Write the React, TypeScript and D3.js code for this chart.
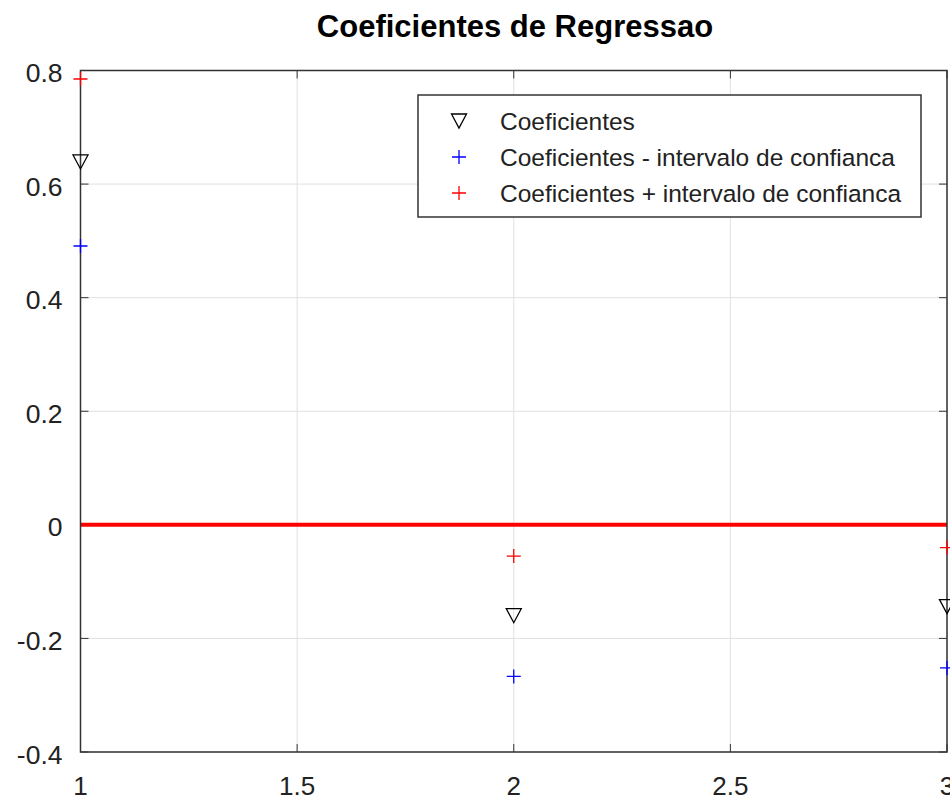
import React from "react";
import * as d3 from "d3";

const xs = [1, 2, 3];
const coef = [0.639, -0.160, -0.144];
const lower = [0.491, -0.267, -0.252];
const upper = [0.785, -0.055, -0.040];
const xTicks = [1, 1.5, 2, 2.5, 3];
const yTicks = [-0.4, -0.2, 0, 0.2, 0.4, 0.6, 0.8];
const legendLabels = [
  "Coeficientes",
  "Coeficientes - intervalo de confianca",
  "Coeficientes + intervalo de confianca",
];

const W = 950, H = 801;
const L = 80.5, R = 947, T = 70.5, B = 752;
const font = "'Liberation Sans', Arial, sans-serif";

function Plus({ x, y, color }: { x: number; y: number; color: string }) {
  const s = 7;
  return (
    <path d={`M${x - s},${y}H${x + s}M${x},${y - s}V${y + s}`} stroke={color} strokeWidth={1.3} fill="none" />
  );
}
function Tri({ x, y }: { x: number; y: number }) {
  const w = 7.5, h = 7;
  return (
    <path d={`M${x - w},${y - h}L${x + w},${y - h}L${x},${y + h}Z`} stroke="#000" strokeWidth={1.3} fill="none" />
  );
}

export default function App() {
  const xScale = d3.scaleLinear().domain([1, 3]).range([L, R]);
  const yScale = d3.scaleLinear().domain([-0.4, 0.8]).range([B, T]);
  const fmt = (v: number) => (Math.abs(v) < 1e-9 ? "0" : String(+v.toFixed(1)));
  const legX = 418, legY = 95, legW = 503, legH = 122;
  const rowY = [121, 157, 193];
  return (
    <svg width={W} height={H} style={{ position: "absolute", left: 0, top: 0, background: "#fff" }}>
      <rect x={0} y={0} width={W} height={H} fill="#fff" />
      <text x={515} y={37} textAnchor="middle" fontFamily={font} fontWeight="bold" fontSize={31}>
        Coeficientes de Regressao
      </text>
      {/* grid */}
      {xTicks.map((t) => (
        <line key={"gx" + t} x1={xScale(t)} x2={xScale(t)} y1={T} y2={B} stroke="#e0e0e0" strokeWidth={1} />
      ))}
      {yTicks.map((t) => (
        <line key={"gy" + t} x1={L} x2={R} y1={yScale(t)} y2={yScale(t)} stroke="#e0e0e0" strokeWidth={1} />
      ))}
      {/* ticks */}
      {xTicks.map((t) => (
        <g key={"tx" + t}>
          <line x1={xScale(t)} x2={xScale(t)} y1={B} y2={B - 8} stroke="#333" />
          <line x1={xScale(t)} x2={xScale(t)} y1={T} y2={T + 8} stroke="#333" />
          <text x={xScale(t)} y={795} textAnchor="middle" fontFamily={font} fontSize={26} fill="#222">
            {fmt(t)}
          </text>
        </g>
      ))}
      {yTicks.map((t) => (
        <g key={"ty" + t}>
          <line x1={L} x2={L + 8} y1={yScale(t)} y2={yScale(t)} stroke="#333" />
          <line x1={R} x2={R - 8} y1={yScale(t)} y2={yScale(t)} stroke="#333" />
          <text x={62.5} y={yScale(t) + 11.5} textAnchor="end" fontFamily={font} fontSize={26.5} fill="#222">
            {fmt(t)}
          </text>
        </g>
      ))}
      {/* zero line */}
      <line x1={L} x2={R} y1={yScale(0)} y2={yScale(0)} stroke="#ff0000" strokeWidth={4} />
      {/* axes box */}
      <rect x={L} y={T} width={R - L} height={B - T} fill="none" stroke="#333" strokeWidth={1.5} />
      {/* points */}
      {xs.map((x, i) => (
        <g key={"p" + i}>
          <Tri x={xScale(x)} y={yScale(coef[i])} />
          <Plus x={xScale(x)} y={yScale(lower[i])} color="#0000ff" />
          <Plus x={xScale(x)} y={yScale(upper[i])} color="#ff0000" />
        </g>
      ))}
      {/* legend */}
      <rect x={legX} y={legY} width={legW} height={legH} fill="#fff" stroke="#333" strokeWidth={1.5} />
      <Tri x={459} y={rowY[0]} />
      <Plus x={459} y={rowY[1]} color="#0000ff" />
      <Plus x={459} y={rowY[2]} color="#ff0000" />
      {legendLabels.map((s, i) => (
        <text key={s} x={500} y={rowY[i] + 9} fontFamily={font} fontSize={24.5} fill="#222">
          {s}
        </text>
      ))}
    </svg>
  );
}
